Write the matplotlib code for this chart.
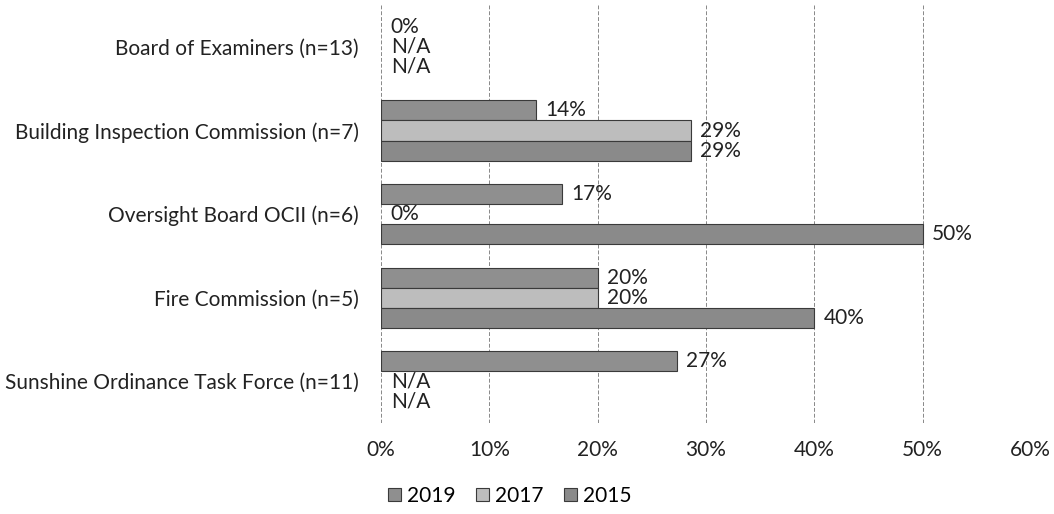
import numpy as np
import matplotlib.pyplot as plt
from matplotlib.patches import Patch

plt.rcParams["font.family"] = ["Lato", "DejaVu Sans"]

categories = [
    "Board of Examiners (n=13)",
    "Building Inspection Commission (n=7)",
    "Oversight Board OCII (n=6)",
    "Fire Commission (n=5)",
    "Sunshine Ordinance Task Force (n=11)",
]
years = ["2019", "2017", "2015"]
# None = N/A (no data that year)
v2019 = [0.0, 14.3, 16.7, 20.0, 27.3]
v2017 = [None, 28.6, 0.0, 20.0, None]
v2015 = [None, 28.6, 50.0, 40.0, None]
colors = ["#8f8f8f", "#bdbdbd", "#8a8a8a"]

FS = 15

fig = plt.figure(figsize=(10.54, 5.14), dpi=100)
ax = fig.add_axes([0.3615, 0.177, 0.6165, 0.813])

y = np.arange(len(categories))
h = 0.24
series = [v2019, v2017, v2015]
for i, (vals, yr, c) in enumerate(zip(series, years, colors)):
    pos = y + (i - 1) * h
    widths = [v / 100 if v is not None else 0 for v in vals]
    bars = ax.barh(pos, widths, height=h, color=c, edgecolor="#3a3a3a",
                   linewidth=0.8)
    for b, v in zip(bars, vals):
        if v is None or v == 0:
            b.set_visible(False)
    labels = ["N/A" if v is None else f"{v:.0f}%" for v in vals]
    for p, w, lab in zip(pos, widths, labels):
        ax.annotate(lab, (w, p), xytext=(7, 0), textcoords="offset points",
                    va="center", ha="left", fontsize=FS, color="#222222")

ax.set_xlim(0, 0.6)
ax.set_ylim(len(categories) - 0.5, -0.5)
ticks = np.arange(0, 0.61, 0.1)
ax.set_xticks(ticks)
ax.set_xticklabels([f"{int(round(t * 100))}%" for t in ticks])
ax.set_yticks(y)
ax.set_yticklabels(categories)
ax.tick_params(axis="both", length=0, labelsize=FS, colors="#222222")
ax.tick_params(axis="x", pad=12)
ax.tick_params(axis="y", pad=16)
for s in ax.spines.values():
    s.set_visible(False)
ax.grid(axis="x", color="#888888", linestyle=(0, (4, 2)), linewidth=0.7)
ax.set_axisbelow(True)

handles = [Patch(facecolor=c, edgecolor="#3a3a3a", linewidth=0.8, label=yr)
           for c, yr in zip(colors, years)]
fig.legend(handles=handles, loc="center",
           bbox_to_anchor=(510 / 1054, 1 - 496 / 514), ncol=3,
           frameon=False, fontsize=FS, handlelength=0.6, handleheight=0.6,
           handletextpad=0.3, columnspacing=1.0)

fig.savefig("out.png", dpi=100)
